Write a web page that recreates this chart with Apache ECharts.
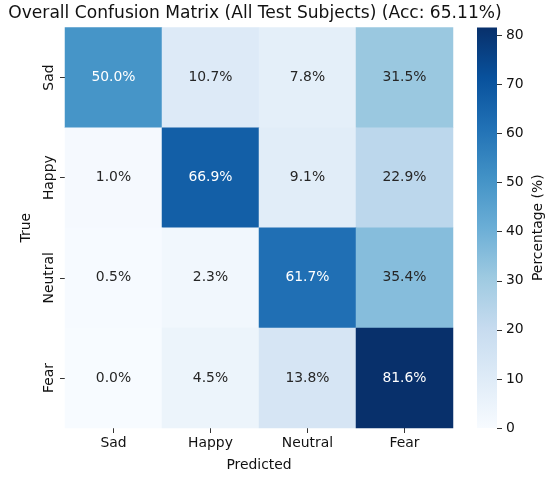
<!DOCTYPE html>
<html>
<head>
<meta charset="utf-8">
<script src="https://cdn.jsdelivr.net/npm/echarts@6/dist/echarts.min.js"></script>
<style>
html,body{margin:0;padding:0;background:#fff;}
#c{width:550px;height:477px;}
</style>
</head>
<body>
<div id="c"></div>
<script>
const categories = ['Sad', 'Happy', 'Neutral', 'Fear'];
const rowSad = [50.0, 10.7, 7.8, 31.5];
const rowHappy = [1.0, 66.9, 9.1, 22.9];
const rowNeutral = [0.5, 2.3, 61.7, 35.4];
const rowFear = [0.0, 4.5, 13.8, 81.6];
const colorbarTicks = [0, 10, 20, 30, 40, 50, 60, 70, 80];
const titleText = 'Overall Confusion Matrix (All Test Subjects) (Acc: 65.11%)';

const rows = [rowSad, rowHappy, rowNeutral, rowFear];
const blues = ['#f7fbff','#deebf7','#c6dbef','#9ecae1','#6baed6','#4292c6','#2171b5','#08519c','#08306b'];
let vmax = 0;
rows.forEach(r => r.forEach(v => { if (v > vmax) vmax = v; }));

const data = [];
rows.forEach((r, yi) => r.forEach((v, xi) => {
  data.push({ value: [xi, yi, v], label: { color: v >= 45 ? '#ffffff' : '#262626' } });
}));

const FONT = 'DejaVu Sans';
const TXT = '#111111';
const GX = 65, GY = 27.5, GW = 388, GH = 400.5;
const CBX = 477, CBW = 20;

const gradient = new echarts.graphic.LinearGradient(0, 1, 0, 0,
  blues.map((c, i) => ({ offset: i / (blues.length - 1), color: c })));

const chart = echarts.init(document.getElementById('c'), null, { renderer: 'canvas' });
chart.setOption({
  animation: false,
  backgroundColor: '#ffffff',
  textStyle: { fontFamily: FONT },
  title: {
    text: titleText,
    left: GX + GW / 2 - 9, top: 0, textAlign: 'center',
    textStyle: { fontFamily: FONT, fontSize: 17.1, fontWeight: 'normal', color: TXT }
  },
  grid: [
    { left: GX, top: GY, width: GW, height: GH },
    { left: CBX, top: GY, width: CBW, height: GH }
  ],
  xAxis: [
    {
      type: 'category', data: categories, gridIndex: 0,
      axisLine: { show: false },
      axisTick: { show: true, alignWithLabel: true, length: 5, lineStyle: { color: '#333', width: 1 } },
      axisLabel: { fontFamily: FONT, fontSize: 13.9, color: TXT, margin: 8 },
      splitLine: { show: false }, splitArea: { show: false },
      name: 'Predicted', nameLocation: 'middle', nameGap: 30,
      nameTextStyle: { fontFamily: FONT, fontSize: 13.9, color: TXT }
    },
    {
      type: 'category', data: [''], gridIndex: 1, show: false,
      axisLine: { show: false }, axisTick: { show: false }, axisLabel: { show: false }
    }
  ],
  yAxis: [
    {
      type: 'category', data: categories, gridIndex: 0, inverse: true,
      axisLine: { show: false },
      axisTick: { show: true, alignWithLabel: true, length: 5, lineStyle: { color: '#333', width: 1 } },
      axisLabel: { fontFamily: FONT, fontSize: 13.9, color: TXT, rotate: 90, margin: 9 },
      splitLine: { show: false }, splitArea: { show: false },
      name: 'True', nameLocation: 'middle', nameGap: 32,
      nameTextStyle: { fontFamily: FONT, fontSize: 13.9, color: TXT }
    },
    {
      type: 'value', gridIndex: 1, position: 'right', min: 0, max: vmax, interval: 10,
      axisLine: { show: false },
      axisTick: { show: true, length: 5, customValues: colorbarTicks, lineStyle: { color: '#333', width: 1 } },
      axisLabel: { fontFamily: FONT, fontSize: 13.9, color: TXT, margin: 9, customValues: colorbarTicks },
      splitLine: { show: false },
      name: 'Percentage (%)', nameLocation: 'middle', nameGap: 34, nameRotate: 90,
      nameTextStyle: { fontFamily: FONT, fontSize: 13.9, color: TXT }
    }
  ],
  visualMap: {
    type: 'continuous', min: 0, max: vmax, seriesIndex: 0,
    show: false, inRange: { color: blues }
  },
  series: [
    {
      type: 'heatmap', xAxisIndex: 0, yAxisIndex: 0, data: data,
      label: {
        show: true, fontFamily: FONT, fontSize: 13.9,
        formatter: p => p.value[2].toFixed(1) + '%'
      },
      itemStyle: { borderWidth: 0 },
      emphasis: { disabled: true }
    },
    {
      type: 'bar', xAxisIndex: 1, yAxisIndex: 1, data: [vmax],
      barWidth: '100%', silent: true,
      itemStyle: { color: gradient, borderWidth: 0 }
    }
  ]
});
</script>
</body>
</html>
